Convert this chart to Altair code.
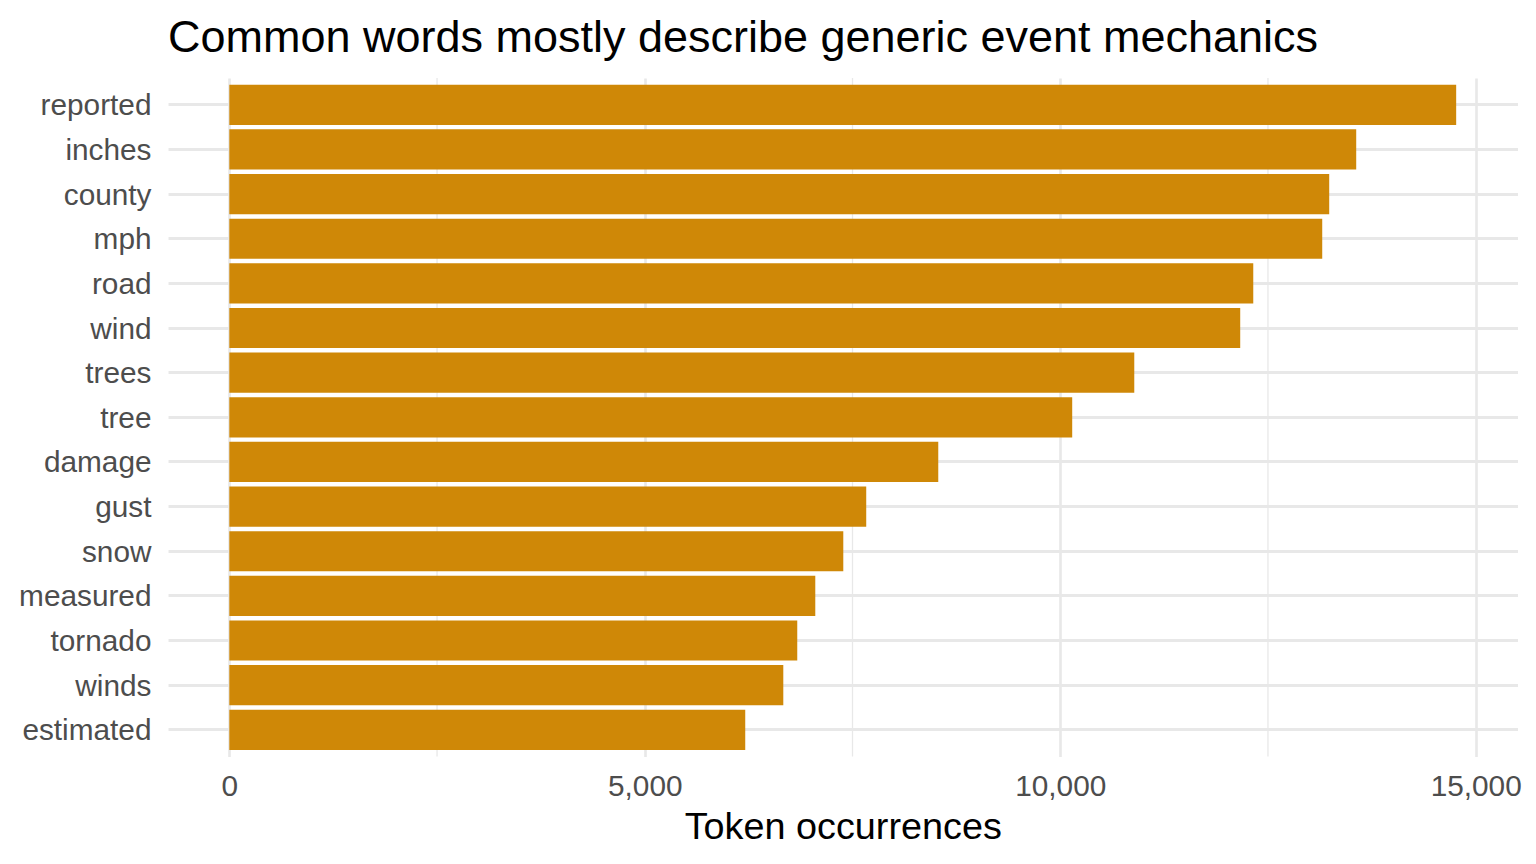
import altair as alt
import pandas as pd

words = ["reported", "inches", "county", "mph", "road", "wind", "trees", "tree",
         "damage", "gust", "snow", "measured", "tornado", "winds", "estimated"]
counts = [14765, 13562, 13237, 13153, 12323, 12166, 10891, 10144,
          8532, 7665, 7389, 7052, 6835, 6667, 6209]
major_ticks = [0, 5000, 10000, 15000]
minor_ticks = [2500, 7500, 12500]

df = pd.DataFrame({"word": words, "n": counts})
minor_df = pd.DataFrame({"v": minor_ticks})

FONT = "Liberation Sans"
GRID = "#E8E8E8"
x_scale = alt.Scale(domain=[-738, 15503], nice=False, zero=False)
y_scale = alt.Scale(paddingInner=0.1, paddingOuter=0.15)

minor = alt.Chart(minor_df).mark_rule(color=GRID, strokeWidth=1.3).encode(
    x=alt.X("v:Q", scale=x_scale)
)

bars = alt.Chart(df).mark_bar(color="#CF8807").encode(
    x=alt.X("n:Q", scale=x_scale,
            axis=alt.Axis(values=major_ticks, labelExpr="format(datum.value, ',.0f')",
                          title="Token occurrences",
                          grid=True, gridColor=GRID, gridWidth=2.6,
                          ticks=False, tickSize=0, domain=False,
                          labelFont=FONT, labelFontSize=29.8, labelColor="#4D4D4D",
                          labelPadding=15, titleFont=FONT, titleFontSize=37.8,
                          titleColor="#000000", titleFontWeight="normal",
                          titlePadding=7)),
    y=alt.Y("word:N", sort=words, scale=y_scale,
            axis=alt.Axis(title=None, grid=True, gridColor=GRID, gridWidth=2.8,
                          ticks=False, tickSize=0, domain=False,
                          labelFont=FONT, labelFontSize=29.8, labelColor="#4D4D4D",
                          labelPadding=17, labelBaseline="middle", labelOffset=1.5)),
)

chart = alt.layer(minor, bars).properties(
    width=1349.5,
    height=678.6,
    padding={"left": 160, "top": 70, "right": 10, "bottom": 100},
    autosize=alt.AutoSizeParams(type="none"),
    title=alt.TitleParams("Common words mostly describe generic event mechanics",
                          anchor="start", frame="group", font=FONT, fontSize=45,
                          fontWeight="normal", color="#000000", offset=16),
).configure_view(stroke=None)

chart.save("out.html", embed_options={"renderer": "svg", "actions": False})
